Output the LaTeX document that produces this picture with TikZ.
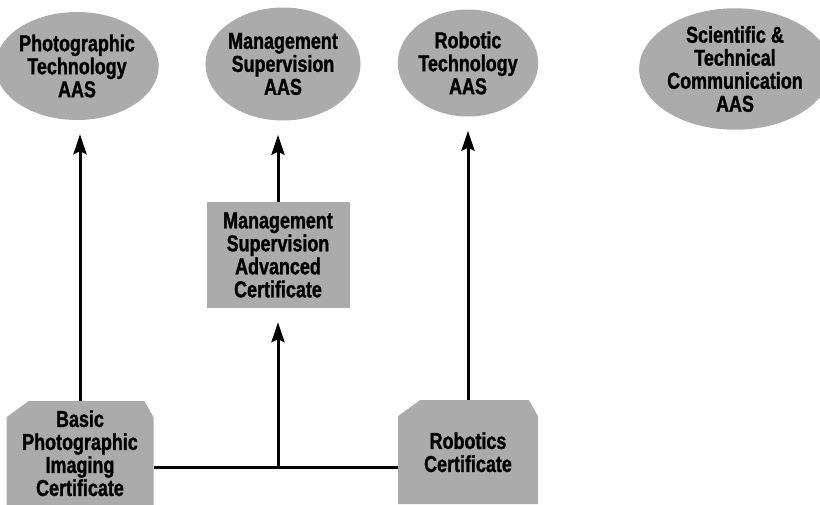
\documentclass[tikz,border=0pt]{standalone}
\usepackage{fontspec}
\newfontfamily\cond[FakeStretch=0.78,FakeBold=1.2]{Liberation Sans}
\usetikzlibrary{arrows.meta,shapes.geometric}
\tikzset{
  cfill/.style={fill=black!33},
  lbl/.style={font=\cond\bfseries\fontsize{23}{23}\selectfont, align=center, text=black, inner sep=0pt},
  oval/.style={lbl, ellipse, cfill},
  cbox/.style={lbl, rectangle, cfill},
  badge/.style={lbl, rectangle,
    path picture={\fill[black!33]
      ([xshift=22pt]path picture bounding box.north west) --
      ([xshift=-9pt]path picture bounding box.north east) --
      ([yshift=-16pt]path picture bounding box.north east) --
      (path picture bounding box.south east) --
      (path picture bounding box.south west) --
      ([yshift=-16pt]path picture bounding box.north west) -- cycle;}},
  conn/.style={line width=3pt},
  arr/.style={conn, -{Stealth[length=20pt,width=13pt,inset=3pt]}, shorten >=14pt},
}
\begin{document}
\begin{tikzpicture}[x=1pt,y=-1pt]
\useasboundingbox (0,0) rectangle (820,504);
\clip (0,0) rectangle (820,504);
% top ellipses
\node[oval, minimum width=134pt, minimum height=108pt] (e1) at (77,66) {Photographic\\Technology\\AAS};
\node[oval, minimum width=143pt, minimum height=113pt] (e2) at (283,64) {Management\\Supervision\\AAS};
\node[oval, minimum width=135pt, minimum height=107pt] (e3) at (468,63) {Robotic\\Technology\\AAS};
\node[oval, minimum width=135pt, minimum height=117pt] (e4) at (735,69) {Scientific \&\\Technical\\Communication\\AAS};
% middle box
\node[cbox, minimum width=143pt, minimum height=106pt] (box) at (278,255) {Management\\Supervision\\Advanced\\Certificate};
% bottom badges
\node[badge, minimum width=147pt, minimum height=104pt, anchor=north] (basic) at (80,401) {Basic\\Photographic\\Imaging\\Certificate};
\node[badge, minimum width=140pt, minimum height=104pt, anchor=north] (robo) at (468,400) {Robotics\\Certificate};
% connectors
\coordinate (jn) at (278,467);
\draw[conn] (basic.east |- jn) -- (robo.west |- jn);
\draw[arr] (jn) -- (box.south);
\draw[arr] (box.north) -- (box.north |- e2.south);
\draw[arr] (basic.north) -- (basic.north |- e1.south);
\draw[arr] (robo.north) -- (robo.north |- e3.south);
\end{tikzpicture}
\end{document}
